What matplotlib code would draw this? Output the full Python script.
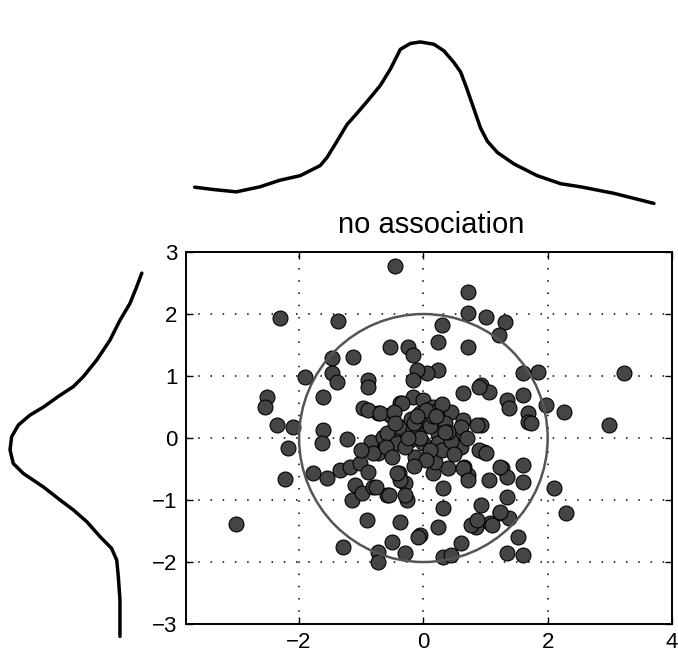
import matplotlib.pyplot as plt
from matplotlib.patches import Circle

plt.rcParams['font.family'] = ['Liberation Sans', 'DejaVu Sans']

# scatter points
pts_x = [-0.45, -2.31, -1.37, 0.71, 0.71, 1.0, 1.32, 0.30, 0.24, 0.71, 1.21, 1.61, 1.85,
         3.23, 1.97, 2.26, 2.98, 0.92, 1.05, 0.63, 1.35, 1.37, 1.61, 1.69, 1.69, 0.92,
         0.24, 0.06, -0.53, -0.24, -0.16, -1.13, -1.47, -0.10, -0.16, -1.90, -1.47, -1.39,
         -0.89, -0.89, -1.61, -2.52, -2.55, -0.97, -0.73, -0.53, -0.37, -0.16, -0.05, -2.35,
         -2.10, -1.61, -2.18, -1.63, -1.23, -0.85, -0.65, -0.42, -0.26, -0.10, 0.0, -0.34,
         -0.89, -0.69, -0.48, -0.37, -0.16, 0.15, 0.24, 0.44, 0.35, 0.63, 0.87, -0.58, 0.23,
         0.55, 0.89,
         -2.23, -1.77, -1.55, -1.34, -1.18, -1.02, -0.89, -1.10, -1.15, -0.98, -0.81, -0.58,
         -0.40, -0.29, -0.26, -0.73, -0.42, -0.21, -0.90, -0.37, -0.06, -1.29, -0.50, -0.29,
         -0.73, -0.73, -3.02, 0.60, 0.97, 1.27, 1.60, 1.35, 1.61, 2.10, 2.29, 0.71, 0.65,
         0.39, 0.15, 0.31, 0.24, 0.32, 0.92, 0.84, 1.08, 1.24, 1.37, 0.60, 1.52, 1.35, 1.60,
         0.31, 0.44, 0.60, 1.73, 0.23, 0.00, 0.76, 0.87, -0.37, -0.29, -0.56, -0.77, 0.63,
         0.71, 0.89, 0.19, -0.13, -0.81, -0.42, 1.00, 1.24, 1.05, 1.35, 1.24, 1.11, -0.08,
         0.0, 0.10, -0.20, 0.30, -0.30, 0.10, -0.05, 0.45, -0.60, 0.70, -1.00, 0.15, -0.15,
         0.40, 0.05, -0.45, 0.30,
         -0.10, 0.20, -0.25, 0.05, 0.35, -0.50, 0.50, -0.15]
pts_y = [2.78, 1.94, 1.89, 2.35, 2.02, 1.95, 1.87, 1.82, 1.55, 1.47, 1.66, 1.05, 1.07,
         1.05, 0.53, 0.42, 0.21, 0.85, 0.74, 0.72, 0.61, 0.48, 0.69, 0.40, 0.26, 0.21,
         1.10, 1.05, 1.47, 1.47, 1.34, 1.30, 1.29, 1.10, 0.94, 0.98, 1.05, 0.90,
         0.94, 0.82, 0.66, 0.66, 0.50, 0.48, 0.40, 0.37, 0.56, 0.66, 0.40, 0.21,
         0.18, 0.13, -0.16, -0.08, -0.02, -0.06, 0.02, 0.13, 0.13, 0.08, 0.61, 0.56,
         0.45, 0.40, 0.42, 0.18, 0.13, 0.50, 0.45, 0.42, 0.24, 0.29, 0.21, 0.08, 0.08,
         0.05, 0.82,
         -0.66, -0.57, -0.65, -0.52, -0.47, -0.40, -0.55, -0.76, -1.00, -0.89, -0.79, -0.92,
         -0.57, -0.73, -1.00, -0.24, -0.08, -0.03, -1.32, -1.35, -1.56, -1.76, -1.68, -1.86,
         -1.84, -2.00, -1.39, -0.15, -0.23, -0.48, -0.44, -0.63, -0.71, -0.81, -1.21, -0.60, -0.47,
         -0.48, -0.57, -0.81, -1.43, -1.13, -1.08, -1.43, -1.37, -1.21, -1.29, -1.69, -1.60, -1.86, -1.89,
         -1.92, -1.89, 0.18, 0.24, -0.08, -0.08, -1.40, -1.32, -0.68, -0.92, -0.92, -0.79, -0.48,
         -0.68, -0.19, -0.39, -0.31, -0.24, -0.57, -0.24, -0.47, -0.68, -0.95, -1.19, -1.40, -1.60,
         0.30, 0.20, 0.30, -0.20, -0.15, -0.20, 0.00, -0.05, -0.15, 0.00, -0.20, 0.35, 0.25,
         0.10, 0.45, 0.25, 0.55,
         0.35, 0.35, 0.00, -0.35, 0.10, -0.30, -0.25, -0.45]

# marginal density curves
top_x = [-3.68, -3.38, -3.01, -2.63, -2.31, -1.98, -1.66, -1.55, -1.39, -1.23, -1.07,
         -0.91, -0.69, -0.53, -0.37, -0.21, -0.05, 0.17, 0.33, 0.49, 0.60, 0.70, 0.81,
         0.92, 1.03, 1.19, 1.46, 1.83, 2.21, 2.53, 3.07, 3.71]
top_d = [0.046, 0.040, 0.034, 0.047, 0.064, 0.076, 0.102, 0.123, 0.165, 0.208, 0.237,
         0.267, 0.310, 0.352, 0.403, 0.418, 0.422, 0.416, 0.399, 0.369, 0.344, 0.301, 0.250,
         0.199, 0.165, 0.136, 0.106, 0.076, 0.055, 0.047, 0.030, 0.004]
left_y = [2.66, 2.44, 2.17, 1.90, 1.58, 1.26, 0.99, 0.83, 0.67, 0.50, 0.37, 0.21, 0.02,
          -0.19, -0.41, -0.57, -0.79, -1.00, -1.16, -1.35, -1.59, -1.78, -1.97, -2.24,
          -2.61, -3.20]
left_d = [0.010, 0.026, 0.047, 0.078, 0.109, 0.150, 0.192, 0.223, 0.270, 0.316, 0.358,
          0.394, 0.415, 0.420, 0.410, 0.379, 0.316, 0.264, 0.223, 0.181, 0.140, 0.104,
          0.088, 0.083, 0.078, 0.078]

circle_radius = 2
x_ticks = [-2, 0, 2, 4]
y_ticks = [-3, -2, -1, 0, 1, 2, 3]

fig = plt.figure(figsize=(6.78, 6.64), dpi=100)

# main scatter
ax = fig.add_axes([0.2743, 0.0602, 0.7168, 0.5602])
ax.set_xlim(-3.82, 4)
ax.set_ylim(-3, 3)
ax.set_xticks(x_ticks)
ax.set_yticks(y_ticks)
ax.set_xticklabels(['\u22122', '0', '2', '4'])
ax.set_yticklabels(['\u22123', '\u22122', '\u22121', '0', '1', '2', '3'])
ax.tick_params(direction='in', top=True, right=True, length=5, width=1,
               labelsize=16, pad=6)
for s in ax.spines.values():
    s.set_linewidth(1.4)
for gx in [-2, 0, 2]:
    ax.axvline(gx, color='black', lw=1.1, ls=(0, (1, 7)), zorder=0)
for gy in [-2, -1, 0, 1, 2]:
    ax.axhline(gy, color='black', lw=1.1, ls=(0, (1, 7)), zorder=0)
ax.scatter(pts_x, pts_y, s=115, c='#454545', edgecolors='black', linewidths=0.8, zorder=3)
ax.add_patch(Circle((0, 0), circle_radius, fill=False, ec='#555555', lw=1.8, zorder=4))

fig.text(0.636, 0.661, 'no association', ha='center', va='center', fontsize=21)

# top marginal
ax_top = fig.add_axes([0.2743, 0.6913, 0.7168, 0.256])
ax_top.set_xlim(-3.82, 4)
ax_top.set_ylim(0, 0.44)
ax_top.plot(top_x, top_d, color='black', lw=2.5, solid_capstyle='round',
            solid_joinstyle='round')
ax_top.axis('off')

# left marginal
ax_left = fig.add_axes([0.0053, 0.0602, 0.2086, 0.5602])
ax_left.set_xlim(0.44, 0)
ax_left.set_ylim(-3, 3)
ax_left.plot(left_d, left_y, color='black', lw=2.5, clip_on=False, solid_capstyle='round',
             solid_joinstyle='round')
ax_left.axis('off')

fig.savefig('out.png', dpi=100)
